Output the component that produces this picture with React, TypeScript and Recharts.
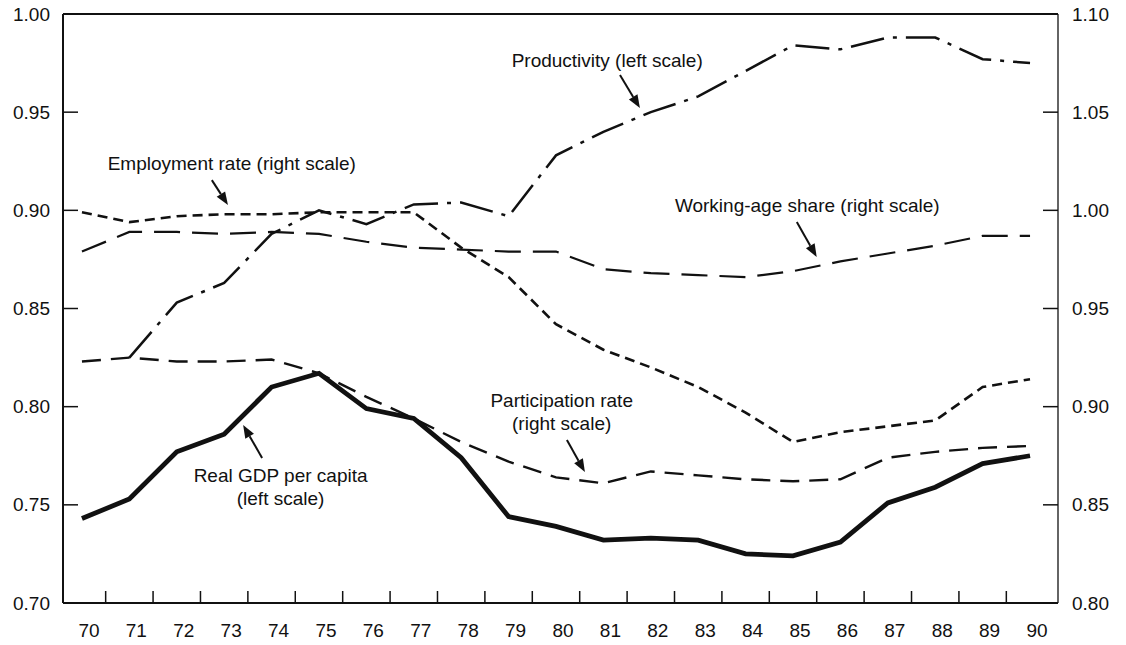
import React from 'react';
import { LineChart, Line, XAxis, YAxis, ReferenceLine, ReferenceDot } from 'recharts';

// ---- data (annual, 1970-1990) ----
const years = [70, 71, 72, 73, 74, 75, 76, 77, 78, 79, 80, 81, 82, 83, 84, 85, 86, 87, 88, 89, 90];
// left scale
const gdpPerCapita = [0.743, 0.753, 0.777, 0.786, 0.810, 0.817, 0.799, 0.794, 0.774, 0.744, 0.739, 0.732, 0.733, 0.732, 0.725, 0.724, 0.731, 0.751, 0.759, 0.771, 0.775];
const productivity = [null, 0.825, 0.853, 0.863, 0.888, 0.900, 0.893, 0.903, 0.904, 0.897, 0.928, 0.940, 0.950, 0.958, 0.971, 0.984, 0.982, 0.988, 0.988, 0.977, 0.975];
// right scale
const employmentRate = [0.999, 0.994, 0.997, 0.998, 0.998, 0.999, 0.999, 0.999, 0.981, 0.966, 0.942, 0.929, 0.920, 0.910, 0.897, 0.882, 0.887, 0.890, 0.893, 0.910, 0.914];
const workingAgeShare = [0.979, 0.989, 0.989, 0.988, 0.989, 0.988, 0.984, 0.981, 0.980, 0.979, 0.979, 0.970, 0.968, 0.967, 0.966, 0.969, 0.974, 0.978, 0.982, 0.987, 0.987];
const participationRate = [0.923, 0.925, 0.923, 0.923, 0.924, 0.917, 0.905, 0.894, 0.882, 0.872, 0.864, 0.861, 0.867, 0.865, 0.863, 0.862, 0.863, 0.874, 0.877, 0.879, 0.880];

const leftTicks = [0.70, 0.75, 0.80, 0.85, 0.90, 0.95, 1.00];
const rightTicks = [0.80, 0.85, 0.90, 0.95, 1.00, 1.05, 1.10];
const xTicks = years.flatMap((y, i) => (i < years.length - 1 ? [y, y + 0.5] : [y]));

const data = years.map((year, i) => ({
  year,
  gdp: gdpPerCapita[i],
  prod: productivity[i],
  emp: employmentRate[i],
  wa: workingAgeShare[i],
  part: participationRate[i],
}));

// annotation text (data coords on left scale)
const noteX = [81.08, 73.16, 85.30, 80.12, 74.19];
const noteY = [0.9766, 0.9241, 0.9027, 0.8034, 0.7652];
const noteText = [
  ['Productivity (left scale)'],
  ['Employment rate (right scale)'],
  ['Working-age share (right scale)'],
  ['Participation rate', '(right scale)'],
  ['Real GDP per capita', '(left scale)'],
];
// arrows: tail -> head (data coords on left scale)
const arrows = [
  [[81.35, 0.9689], [81.77, 0.9521]],
  [[72.74, 0.9154], [73.08, 0.9027]],
  [[85.08, 0.8940], [85.50, 0.8762]],
  [[80.23, 0.7830], [80.61, 0.7667]],
  [[73.80, 0.7739], [73.40, 0.7907]],
];

const FONT = '"Liberation Sans", Arial, Helvetica, sans-serif';
const INK = '#111';
const FS = 19;

const XTick = (props: any) => {
  const { x, y, payload } = props;
  const v = payload.value;
  if (Math.abs(v - Math.round(v)) > 0.01) {
    return <line x1={x} x2={x} y1={y} y2={y - 12} stroke={INK} strokeWidth={1.5} />;
  }
  return (
    <text x={x + 7} y={y + 27} dy="0.35em" textAnchor="middle" fontSize={FS} fill={INK} fontFamily={FONT}>
      {v}
    </text>
  );
};

const LeftTick = (props: any) => {
  const { x, y, payload } = props;
  return (
    <g>
      <line x1={x} x2={x + 15} y1={y} y2={y} stroke={INK} strokeWidth={1.5} />
      <text x={x - 13} y={y} dy="0.35em" textAnchor="end" fontSize={FS} fill={INK} fontFamily={FONT}>
        {Number(payload.value).toFixed(2)}
      </text>
    </g>
  );
};

const RightTick = (props: any) => {
  const { x, y, payload } = props;
  return (
    <g>
      <line x1={x - 15} x2={x} y1={y} y2={y} stroke={INK} strokeWidth={1.5} />
      <text x={x + 14} y={y} dy="0.35em" textAnchor="start" fontSize={FS} fill={INK} fontFamily={FONT}>
        {Number(payload.value).toFixed(2)}
      </text>
    </g>
  );
};

const Arrow = (props: any) => {
  const { x1, y1, x2, y2 } = props;
  if ([x1, y1, x2, y2].some((v) => typeof v !== 'number' || isNaN(v))) return null;
  const ang = Math.atan2(y2 - y1, x2 - x1);
  const L = 13;
  const W = 5;
  const bx = x2 - L * Math.cos(ang);
  const by = y2 - L * Math.sin(ang);
  const px = -Math.sin(ang) * W;
  const py = Math.cos(ang) * W;
  return (
    <g>
      <line x1={x1} y1={y1} x2={bx} y2={by} stroke={INK} strokeWidth={2} />
      <polygon points={`${x2},${y2} ${bx + px},${by + py} ${bx - px},${by - py}`} fill={INK} />
    </g>
  );
};

const makeNote = (lines: string[]) => (props: any) => {
  const { cx, cy } = props;
  return (
    <g>
      {lines.map((t, i) => (
        <text key={i} x={cx} y={cy + i * 23} dy="0.35em" textAnchor="middle" fontSize={FS} fill={INK} fontFamily={FONT}>
          {t}
        </text>
      ))}
    </g>
  );
};

export default function App() {
  return (
    <div style={{ width: 1110, height: 629, fontFamily: FONT }}>
      <style>{'.recharts-surface { overflow: visible; }'}</style>
      <LineChart width={1110} height={629} data={data} margin={{ top: 6, right: 0, bottom: 0, left: 0 }}>
        <XAxis
          dataKey="year"
          type="number"
          domain={[69.6, 90.59]}
          allowDataOverflow
          ticks={xTicks}
          interval={0}
          tickLine={false}
          tickSize={0}
          tickMargin={0}
          height={34}
          axisLine={{ stroke: INK, strokeWidth: 2 }}
          tick={(p: any) => <XTick {...p} />}
        />
        <YAxis
          yAxisId="left"
          orientation="left"
          domain={[0.7, 1.0]}
          allowDataOverflow
          ticks={leftTicks}
          interval={0}
          width={55}
          tickLine={false}
          tickSize={0}
          tickMargin={0}
          axisLine={{ stroke: INK, strokeWidth: 2 }}
          tick={(p: any) => <LeftTick {...p} />}
        />
        <YAxis
          yAxisId="right"
          orientation="right"
          domain={[0.8, 1.1]}
          allowDataOverflow
          ticks={rightTicks}
          interval={0}
          width={60}
          tickLine={false}
          tickSize={0}
          tickMargin={0}
          axisLine={{ stroke: INK, strokeWidth: 1.3 }}
          tick={(p: any) => <RightTick {...p} />}
        />
        <ReferenceLine yAxisId="left" y={1.0} stroke={INK} strokeWidth={2} />

        <Line yAxisId="right" type="linear" dataKey="wa" stroke={INK} strokeWidth={2.2} strokeDasharray="26 12" dot={false} isAnimationActive={false} />
        <Line yAxisId="right" type="linear" dataKey="emp" stroke={INK} strokeWidth={2.6} strokeDasharray="10 6" dot={false} isAnimationActive={false} />
        <Line yAxisId="right" type="linear" dataKey="part" stroke={INK} strokeWidth={2.4} strokeDasharray="19 10" dot={false} isAnimationActive={false} />
        <Line yAxisId="left" type="linear" dataKey="prod" stroke={INK} strokeWidth={2.5} strokeDasharray="34 9 4 9" dot={false} isAnimationActive={false} connectNulls={false} />
        <Line yAxisId="left" type="linear" dataKey="gdp" stroke={INK} strokeWidth={4.8} dot={false} isAnimationActive={false} />

        {arrows.map((a, i) => (
          <ReferenceLine
            key={'arrow' + i}
            yAxisId="left"
            segment={[{ x: a[0][0], y: a[0][1] }, { x: a[1][0], y: a[1][1] }]}
            shape={(p: any) => <Arrow {...p} />}
          />
        ))}
        {noteText.map((lines, i) => (
          <ReferenceDot
            key={'note' + i}
            yAxisId="left"
            x={noteX[i]}
            y={noteY[i]}
            r={1}
            shape={makeNote(lines)}
          />
        ))}
      </LineChart>
    </div>
  );
}
